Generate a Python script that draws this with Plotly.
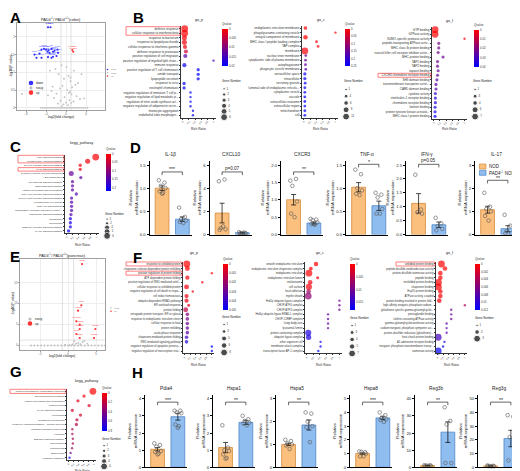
import plotly.graph_objects as go

W, H = 520, 471
FONT = "Liberation Sans, Arial, sans-serif"

# ---------------- A : volcano (colon) ----------------
a_down_x = [-3.6, -3.1, -6.3, -5.9, -5.3, -4.9, -4.4, -4.0, -3.7, -3.5, -3.3,
            -2.9, -2.6, -2.3, -1.7, -1.6, -1.9, -2.6, -2.9, -3.6, -4.9]
a_down_y = [2.27, 2.27, 1.50, 1.41, 1.53, 1.64, 1.66, 1.64, 1.58, 1.62, 1.55,
            1.66, 1.58, 1.61, 1.64, 1.55, 1.46, 1.44, 1.41, 1.43, 1.41]
a_down_genes = ["Gbp2", "Gbp3", "Cxcl9", "Iigp1", "Igtp", "Irgm1", "Gbp7", "Stat1",
                "Ifit1", "Ifit3", "Usp18", "Irf1", "Tgtp1", "Cd274", "Ly6a", "Psmb8",
                "Psmb9", "Tap1", "H2-T23", "Socs1", "Ido1"]
a_up_x = [1.25, 1.45]
a_up_y = [1.63, 1.58]
a_up_genes = ["Pla2g2a", "Defa21"]
a_ns_x = [-5.0, -4.6, -4.2, -3.8, -3.4, -3.0, -2.6, -2.2, -1.8, -1.4, -1.0, -0.6,
          -0.2, 0.2, 0.6, 1.0, 1.4, 1.8, 2.2, 2.6, 3.0, 3.4, 3.8, 4.3,
          -8.8, -3.2, -2.1, -1.5, -0.9, -0.4, 0.1, 0.5, 0.9, 1.6,
          2.4, 3.1, -2.7, -1.2, -0.7, 0.3, 0.8, 1.2, 1.9, -3.6,
          -1.9, -0.3, 0.6, 1.1, 2.8, -2.4, -1.1, 0.0, 0.7, 1.5,
          -1.6, -0.5, 0.4, 1.0, -0.8, 0.9, 2.1, -2.9, 3.6]
a_ns_y = [0.0, 0.0, 0.0, 0.0, 0.0, 0.0, 0.0, 0.0, 0.0, 0.0, 0.0, 0.0,
          0.0, 0.0, 0.0, 0.0, 0.0, 0.0, 0.0, 0.0, 0.0, 0.0, 0.0, 0.0,
          0.39, 1.05, 1.10, 0.95, 1.20, 0.82, 1.15, 0.90, 0.75, 1.05,
          0.70, 0.95, 0.60, 0.55, 0.62, 0.50, 0.45, 0.58, 0.65, 0.35,
          0.40, 0.30, 0.42, 0.38, 0.25, 0.28, 0.20, 0.15, 0.22, 0.18,
          0.12, 0.10, 0.08, 0.14, 0.05, 0.85, 0.33, 0.48, 0.27]

# ---------------- E : volcano (pancreas) ----------------
e_up_x = [2.5, 2.38, 1.79, 1.48, 2.09, 4.88, 2.09, 1.48, 4.64, 2.09]
e_up_y = [19.4, 9.57, 8.29, 5.76, 4.95, 3.93, 3.93, 2.74, 1.79, 1.79]
e_up_genes = ["Hspa8", "Pdia4", "Hspa5", "Hsp90b1", "Hspa1a", "Reg3g", "Dnajb11",
              "Pdia6", "Reg3b", "Sdf2l1"]
e_ns_x = [-6.6, -6.0, -5.4, -4.8, -4.2, -3.6, -3.0, -2.4, -1.8, -1.2, -0.6, 0.0,
          0.6, 1.2, 1.8, 2.4, 3.0, 3.6, 4.2, 4.8, 5.4, 6.0, 6.6,
          1.15, 2.9, 1.43, 3.45, 0.3, 1.8, 2.2, -0.5, 0.8, 2.6]
e_ns_y = [0.0, 0.0, 0.0, 0.0, 0.0, 0.0, 0.0, 0.0, 0.0, 0.0, 0.0, 0.0,
          0.0, 0.0, 0.0, 0.0, 0.0, 0.0, 0.0, 0.0, 0.0, 0.0, 0.0,
          1.07, 1.07, 0.45, 0.45, 0.1, 0.6, 0.3, 0.2, 0.25, 0.8]

# ---------------- B : GO enrichment (colon) ----------------
b_p_terms = ["defense response", "cellular response to interferon-beta", "response to bacterium",
             "response to lipopolysaccharide", "cellular response to interferon-gamma",
             "defense response to protozoan", "positive regulation of cell migration",
             "positive regulation of myeloid light chain...", "immune response",
             "positive regulation of T cell chemotaxis", "amide transport", "lipopeptide secretion",
             "response to virus", "neutrophil chemotaxis", "negative regulation of immature T cell p...",
             "negative regulation of lipid metabolic p...", "regulation of nitric-oxide synthase act...",
             "negative regulation of adiponectin secre...", "monocyte aggregation",
             "endothelial tube morphogen..."]
b_p_ratio = [0.06, 0.06, 0.05, 0.05, 0.07, 0.1, 0.08, 1.0, 0.05, 0.5, 0.5, 0.5, 0.04, 0.04,
             0.25, 0.25, 0.25, 0.25, 0.33, 0.33]
b_p_q = [0.0001, 0.0002, 0.0005, 0.0008, 0.001, 0.004, 0.013, 0.015, 0.019, 0.02, 0.02, 0.02,
         0.02, 0.02, 0.02, 0.02, 0.02, 0.02, 0.02, 0.02]
b_p_genes = [6, 6, 4, 4, 3, 3, 3, 1, 3, 2, 2, 2, 2, 2, 1, 1, 1, 1, 1, 1]

b_c_terms = ["endoplasmic reticulum membrane", "phagolysosome-containing vesicle",
             "integral component of membrane", "MHC class I peptide loading complex", "TAP complex",
             "membrane", "nuclear inner membrane", "cytoplasmic side of plasma membrane",
             "autophagosome", "phagocytic vesicle membrane", "extracellular space", "intracellular",
             "secretory granule", "lumenal side of endoplasmic reticulu...", "cytoplasmic vesicle",
             "vacuole", "extracellular exosome", "extracellular region", "mitochondrion", "cell"]
b_c_ratio = [0.05, 1.0, 0.05, 0.4, 0.45, 0.03, 0.06, 0.05, 0.05, 0.06, 0.03, 0.03, 0.04, 0.03,
             0.03, 0.03, 0.03, 0.03, 0.03, 0.03]
b_c_q = [0.0005, 0.001, 0.002, 0.006, 0.008, 0.01, 0.14, 0.15, 0.16, 0.17, 0.24, 0.24, 0.25,
         0.25, 0.25, 0.25, 0.25, 0.25, 0.25, 0.25]
b_c_genes = [4, 1, 6, 2, 2, 11, 2, 2, 2, 2, 3, 3, 2, 2, 2, 2, 2, 2, 2, 2]

b_f_terms = ["GTP binding", "GTPase activity", "SUMO-specific protease activity",
             "peptide-transporting ATPase activ...", "MHC class Ib protein binding",
             "natural killer cell receptor inhibitor activi...", "MHC protein binding", "TAP1 binding",
             "TAP2 binding", "tapasin binding", "CXCR3 chemokine receptor binding", "SH3 domain binding",
             "transmembrane transporter activi...", "CARD domain binding", "cytokine activity",
             "interleukin-1 receptor binding", "chemokine receptor binding", "laminin binding",
             "protein tyrosine kinase activato...", "MHC class I protein binding"]
b_f_ratio = [0.04, 0.04, 1.0, 0.16, 0.16, 0.14, 0.3, 0.12, 0.12, 0.14, 0.12, 0.1, 0.07, 0.07,
             0.05, 0.05, 0.05, 0.04, 0.04, 0.04]
b_f_q = [0.0003, 0.0005, 0.002, 0.022, 0.022, 0.022, 0.023, 0.023, 0.023, 0.024, 0.024, 0.025,
         0.025, 0.026, 0.032, 0.034, 0.035, 0.036, 0.038, 0.04]
b_f_genes = [7, 7, 1, 2, 2, 2, 2, 2, 2, 2, 2, 2, 2, 2, 2, 2, 2, 2, 2, 2]

# ---------------- C : KEGG (colon) ----------------
c_terms = ["TNF signaling pathway", "Cytosolic DNA-sensing pathway", "Toll-like receptor signaling pathway",
           "IL-17 signaling pathway", "Cytokine-cytokine receptor interaction", "ABC transporters",
           "NF-kappa B signaling pathway", "Osteoclast differentiation",
           "Antigen processing and presentation", "RIG-I-like receptor signaling pathway",
           "C-type lectin receptor signaling pathway", "Hematopoietic cell lineage",
           "Th17 cell differentiation", "Inflammatory mediator regulation of TRP ...",
           "Chemokine signaling pathway", "Phagosome", "Necroptosis",
           "NOD-like receptor signaling pathway", "MAPK signaling pathway"]
c_ratio = [0.97, 0.7, 0.45, 0.45, 0.15, 0.47, 0.19, 0.19, 0.19, 0.32, 0.16, 0.16, 0.16, 0.16,
           0.14, 0.12, 0.12, 0.12, 0.06]
c_q = [0.005, 0.01, 0.012, 0.015, 0.13, 0.14, 0.14, 0.14, 0.14, 0.15, 0.15, 0.15, 0.15, 0.15,
       0.15, 0.2, 0.2, 0.2, 0.22]
c_genes = [6, 4, 2, 2, 4, 2, 2, 2, 2, 2, 2, 2, 2, 2, 2, 2, 2, 2, 2]

# ---------------- F : GO enrichment (pancreas) ----------------
f_p_terms = ["response to unfolded protein", "chaperone cofactor-dependent protein refolding",
             "positive regulation of protein folding", "ATP-dependent protein folding",
             "positive regulation of IRE1-mediated unfol...", "cellular response to unfolded protein",
             "negative regulation of cell death in respo...", "cell redox homeostasis",
             "ubiquitin-dependent ERAD pathway", "ER overload response", "protein folding",
             "retrograde protein transport, ER to cytosol", "response to endoplasmic reticulum stress",
             "cellular response to heat", "protein refolding", "acute-phase response",
             "chaperone-mediated protein folding", "IRE1-mediated signaling pathway",
             "negative regulation of apoptotic process...", "negative regulation of transcription invo..."]
f_p_ratio = [0.08, 0.1, 1.0, 0.1, 0.65, 0.07, 0.3, 0.07, 0.07, 0.15, 0.04, 0.1, 0.1, 0.1, 0.1,
             0.1, 0.07, 0.07, 1.0, 1.0]
f_p_q = [0.0, 0.0, 0.0, 0.0002, 0.0003, 0.0003, 0.0004, 0.0004, 0.0004, 0.0005, 0.0013, 0.0025,
         0.0027, 0.0028, 0.003, 0.0032, 0.0038, 0.0045, 0.005, 0.005]
f_p_genes = [8, 5, 1, 4, 1, 5, 1, 4, 4, 2, 5, 3, 3, 3, 3, 3, 3, 3, 1, 1]

f_c_terms = ["smooth endoplasmic reticulum", "endoplasmic reticulum chaperone complex",
             "endoplasmic reticulum", "endoplasmic reticulum lumen", "melanosome", "cell surface",
             "focal adhesion", "myelin sheath", "Hrd1p ubiquitin ligase complex", "CHOP-ATF4 complex",
             "CHOP-ATF3 complex", "Hrd1p ubiquitin ligase ERAD-L complex", "CHOP-C/EBP complex",
             "Lewy body core", "lysosomal lumen", "protein-containing complex",
             "ubiquitin ligase complex", "other organism cell", "membrane attack complex",
             "transcription factor AP-1 complex"]
f_c_ratio = [0.28, 0.12, 0.06, 0.33, 0.1, 0.06, 0.05, 0.04, 1.0, 1.0, 1.0, 0.65, 0.65, 0.65,
             0.65, 0.04, 0.05, 0.42, 0.42, 0.35]
f_c_q = [0.0, 0.0, 0.0, 0.0005, 0.001, 0.001, 0.007, 0.008, 0.01, 0.01, 0.01, 0.011, 0.011,
         0.011, 0.011, 0.016, 0.016, 0.017, 0.017, 0.018]
f_c_genes = [4, 3, 7, 2, 4, 6, 4, 7, 1, 1, 1, 1, 1, 1, 1, 6, 5, 1, 1, 1]

f_f_terms = ["unfolded protein binding", "peptide disulfide oxidoreductase activity",
             "protein disulfide isomerase activity", "peptide binding", "misfolded protein binding",
             "chaperone binding", "Hsp70 protein binding", "ATPase activity, coupled",
             "protein binding involved in protein fold...", "high-affinity inorganic phosphate:sodium...",
             "glutathione specific gamma-glutamylcyclot...", "prostaglandin binding",
             "clathrin-uncoating ATPase activity", "gamma-glutamylcyclotransferase activity",
             "sodium:inorganic phosphate symporter act...", "protein-disulfide reductase (glutathione)...",
             "heat shock protein binding", "A1 adenosine receptor binding",
             "inorganic phosphate transmembrane transp...", "isomerase activity"]
f_f_ratio = [0.14, 0.27, 0.1, 0.1, 0.03, 0.03, 0.1, 0.1, 0.06, 1.0, 0.5, 0.5, 0.5, 0.33, 0.33,
             0.33, 0.02, 0.25, 0.2, 0.02]
f_f_q = [0.0, 0.0, 0.0, 0.0001, 0.0002, 0.0002, 0.0003, 0.0004, 0.0005, 0.004, 0.007, 0.007,
         0.007, 0.008, 0.008, 0.008, 0.009, 0.011, 0.012, 0.012]
f_f_genes = [3, 2, 2, 2, 3, 3, 2, 2, 2, 1, 1, 1, 1, 1, 1, 1, 3, 1, 1, 3]

# ---------------- G : KEGG (pancreas) ----------------
g_terms = ["Protein processing in endoplasmic reticulum", "Thyroid hormone synthesis",
           "Antigen processing and presentation", "Protein export", "MAPK signaling pathway",
           "Ferroptosis", "Glutathione metabolism", "Longevity regulating pathway - multiple species",
           "Ubiquitin mediated proteolysis", "Apoptosis", "Estrogen signaling pathway", "Spliceosome",
           "Legionellosis", "Endocytosis", "Metabolic pathways"]
g_ratio = [0.96, 0.61, 0.37, 0.81, 0.15, 0.47, 0.33, 0.31, 0.15, 0.15, 0.17, 0.17, 0.14, 0.08, 0.04]
g_q = [0.0, 0.05, 0.08, 0.1, 0.12, 0.12, 0.2, 0.22, 0.26, 0.27, 0.28, 0.28, 0.3, 0.45, 0.8]
g_genes = [6, 2, 2, 2, 2, 2, 2, 2, 1, 1, 1, 1, 1, 1, 1]

# ---------------- D : qPCR colon ----------------
d_genes = ["IL-1β", "CXCL10", "CXCR3", "TNF-α", "IFN-γ", "IL-17"]
d_nod_pts = [[1.17, 1.12, 1.05, 1.0, 0.93, 0.9, 0.88], [4.6, 4.75, 0.55, 0.45, 0.4, 0.7],
             [1.55, 1.6, 1.4, 0.95, 0.6, 0.5], [1.4, 1.3, 1.0, 0.95, 0.88, 0.85],
             [2.15, 0.9, 0.8, 0.75], [1.8, 1.2, 1.1, 1.0, 0.8, 0.6]]
d_pad_pts = [[0.58, 0.38, 0.33, 0.3, 0.27, 0.25], [0.2, 0.15, 0.12, 0.1, 0.1, 0.15],
             [0.45, 0.43, 0.41, 0.35, 0.3, 0.28, 0.3], [0.9, 0.86, 0.8, 0.55, 0.45, 0.45],
             [0.6, 0.4, 0.3, 0.2, 0.15], [0.85, 0.38, 0.15, 0.05, 0.05]]
d_mean = [[1.0, 0.33], [1.85, 0.15], [1.0, 0.33], [1.02, 0.62], [1.12, 0.35], [1.07, 0.25]]
d_sem = [[0.05, 0.05], [0.85, 0.03], [0.15, 0.03], [0.1, 0.1], [0.35, 0.1], [0.15, 0.13]]
d_sig = ["***", "p=0.07", "**", "*", "p=0.05", "**"]
d_ymax = [1.5, 6, 2.0, 1.5, 2.5, 3]
d_dtick = [0.5, 2, 0.5, 0.5, 0.5, 1]

# ---------------- H : qPCR pancreas ----------------
h_genes = ["Pdia4", "Hspa1", "Hspa5", "Hspa8", "Reg3b", "Reg3g"]
h_nod_pts = [[1.4, 1.3, 1.2, 0.95, 0.9, 0.8, 0.75], [2.45, 1.15, 1.0, 0.95, 0.75, 0.55, 0.5],
             [1.2, 1.15, 1.05, 1.0, 0.95, 0.8], [1.15, 1.1, 1.12, 1.0, 0.8, 0.8],
             [1.2, 1.1, 1.0, 0.9, 0.8, 0.9], [1.3, 1.1, 1.0, 0.8, 0.9, 0.7]]
h_pad_pts = [[3.3, 3.3, 3.2, 3.15, 2.5, 2.4, 2.3], [3.0, 2.8, 2.7, 2.6, 2.55, 2.45],
             [2.4, 2.35, 2.0, 1.8, 1.75, 1.1], [4.0, 3.8, 3.6, 3.5, 3.45, 3.3],
             [35, 27, 25, 2.5, 2.5], [38, 37, 22, 5, 5]]
h_mean = [[1.05, 2.95], [1.15, 2.62], [1.0, 1.85], [1.0, 3.6], [1.0, 20.5], [1.0, 21]]
h_sem = [[0.1, 0.2], [0.3, 0.12], [0.05, 0.22], [0.05, 0.12], [0.1, 6], [0.1, 6]]
h_sig = ["***", "**", "**", "***", "**", "**"]
h_ymax = [4, 4, 3, 5, 40, 50]
h_dtick = [1, 1, 1, 1, 10, 10]

NOD_FILL, NOD_LINE = "#fbc07e", "#d68c3c"
PAD_FILL, PAD_LINE = "#8fbdf0", "#4f86c6"
JIT = [-0.16, 0.12, -0.06, 0.17, -0.12, 0.05, 0.0]

fig = go.Figure()
annotations = []
shapes = []
counters = {"ax": 0, "ca": 0}


def px2paper(px, py):
    return px / W, 1 - py / H


def note(text, px, py, size=4, xanchor="center", yanchor="middle", color="#222", **kw):
    x, y = px2paper(px, py)
    annotations.append(dict(text=text, x=x, y=y, xref="paper", yref="paper", showarrow=False,
                            xanchor=xanchor, yanchor=yanchor, font=dict(size=size, color=color),
                            borderpad=0, **kw))


def new_axes(left, right, top, bottom, xa, ya):
    counters["ax"] += 1
    n = counters["ax"]
    sx = "" if n == 1 else str(n)
    xa = dict(xa, domain=[left / W, right / W], anchor="y" + sx)
    ya = dict(ya, domain=[1 - bottom / H, 1 - top / H], anchor="x" + sx)
    fig.update_layout(**{"xaxis" + sx: xa, "yaxis" + sx: ya})
    return "x" + sx, "y" + sx


def paper_circle(px, py, r, color):
    x0, y0 = px2paper(px - r, py + r)
    x1, y1 = px2paper(px + r, py - r)
    shapes.append(dict(type="circle", xref="paper", yref="paper", x0=x0, y0=y0, x1=x1, y1=y1,
                       fillcolor=color, line=dict(width=0)))


def volcano(dom, xrng, yrng, xticks, yticks, groups, vlines, hline):
    left, right, top, bottom = dom
    common = dict(showgrid=True, gridcolor="#eeeeee", gridwidth=0.4, showline=True, mirror=True,
                  linecolor="#a0a0a0", linewidth=0.5, ticks="outside", ticklen=1.2, tickwidth=0.4,
                  tickcolor="#a0a0a0", zeroline=False, tickfont=dict(size=2.8, color="#555"))
    xr, yr = new_axes(left, right, top, bottom,
                      dict(common, range=xrng, tickvals=xticks),
                      dict(common, range=yrng, tickvals=yticks))
    for v in vlines:
        shapes.append(dict(type="line", xref=xr, yref=yr + " domain", x0=v, x1=v, y0=0, y1=1,
                           line=dict(color="#cfcfcf", width=0.6)))
    shapes.append(dict(type="line", xref=xr + " domain", yref=yr, x0=0, x1=1, y0=hline, y1=hline,
                       line=dict(color="#cfcfcf", width=0.6)))
    for gx, gy, col, size, labels in groups:
        fig.add_trace(go.Scatter(
            x=gx, y=gy, mode="markers+text" if labels else "markers", text=labels,
            textposition="top center", textfont=dict(size=2.2, color=col),
            marker=dict(size=size, color=col, line=dict(width=0)),
            xaxis=xr, yaxis=yr, cliponaxis=False))


def dot_plot(dom, terms, ratio, qv, genes, qmax, qticks, levels, title_xy, title, rr_xy, cb, leg,
             boxes, lab_size):
    left, right, top, bottom = dom
    n = len(terms)
    line = dict(showline=True, linecolor="#333", linewidth=0.5, ticks="outside", ticklen=1.2,
                tickwidth=0.4, tickcolor="#333", showgrid=False, zeroline=False)
    rr_ticks = [0, 0.2, 0.4, 0.6, 0.8, 1]
    xr, yr = new_axes(left, right, top, bottom,
                      dict(line, range=[-0.06, 1.08], tickvals=rr_ticks,
                           ticktext=[f"{t:g}" for t in rr_ticks], tickangle=-45,
                           tickfont=dict(size=2.4, color="#333")),
                      dict(line, range=[n - 0.5, -0.5], tickvals=list(range(n)), ticktext=terms,
                           tickfont=dict(size=lab_size, color="#333")))
    counters["ca"] += 1
    ca = "coloraxis" if counters["ca"] == 1 else f"coloraxis{counters['ca']}"
    gmin, gmax = min(levels), max(levels)

    def size_of(g):
        return 2.4 + 4.4 * (g - gmin) / (gmax - gmin)

    fig.add_trace(go.Scatter(
        x=ratio, y=list(range(n)), mode="markers",
        marker=dict(size=[size_of(g) for g in genes], color=[-q for q in qv], coloraxis=ca,
                    line=dict(width=0)),
        xaxis=xr, yaxis=yr, cliponaxis=False))
    cbx, cbtop, cblen, cbth = cb
    fig.update_layout(**{ca: dict(
        cmin=-qmax, cmax=0, colorscale=[[0, "#0000ff"], [1, "#ff0000"]],
        colorbar=dict(x=cbx / W, xanchor="left", y=1 - cbtop / H, yanchor="top", len=cblen,
                      lenmode="pixels", thickness=cbth, thicknessmode="pixels", xpad=0, ypad=0,
                      outlinewidth=0, ticks="", tickvals=[-t for t in qticks],
                      ticktext=[f"{t:g}" for t in qticks], tickfont=dict(size=2.8, color="#333"),
                      title=dict(text="Qvalue", side="top", font=dict(size=3.0, color="#333"))))})
    # gene-number size legend
    lx, ltitle, ltop, lbot = leg
    note("Gene Number", lx - 1, ltitle, size=3.0, xanchor="left")
    lxr, lyr = new_axes(lx, lx + 14, ltop, lbot,
                        dict(visible=False, range=[-0.7, 4]),
                        dict(visible=False, range=[len(levels) - 0.5, -0.5]))
    fig.add_trace(go.Scatter(
        x=[0] * len(levels), y=list(range(len(levels))), mode="markers+text",
        text=[str(v) for v in levels], textposition="middle right",
        textfont=dict(size=2.8, color="#333"),
        marker=dict(size=[size_of(v) for v in levels], color="black"),
        xaxis=lxr, yaxis=lyr, cliponaxis=False))
    note(title, title_xy[0], title_xy[1], size=3.6)
    note("Rich Ratio", rr_xy[0], rr_xy[1], size=3.2)
    rh = (bottom - top) / n
    for r0, r1, xl in boxes:
        x0, y0 = px2paper(xl, top + (r1 + 1) * rh - 0.3)
        x1, y1 = px2paper(left - 1.0, top + r0 * rh + 0.3)
        shapes.append(dict(type="rect", xref="paper", yref="paper", x0=x0, y0=y0, x1=x1, y1=y1,
                           line=dict(color="#ff2a2a", width=0.6)))


def bar_chart(L, t, b, name, ymax, dtick, nod, pad, mean, sem, sig, frac, tickfmt):
    top = b - (b - t) * 1.06
    ticks = [round(dtick * k, 3) for k in range(int(round(ymax / dtick)) + 1)]
    xr, yr = new_axes(L, L + 42, top, b,
                      dict(range=[-0.62, 1.45], showticklabels=False, ticks="", showline=True,
                           linecolor="black", linewidth=0.8, showgrid=False, zeroline=False),
                      dict(range=[0, ymax * 1.06], tickvals=ticks, tickformat=tickfmt,
                           ticks="outside", ticklen=2, tickwidth=0.6, tickcolor="black",
                           tickfont=dict(size=4.3, color="#222"), showline=True, linecolor="black",
                           linewidth=0.8, showgrid=False, zeroline=False,
                           title=dict(text="Relative<br>mRNA expression",
                                      font=dict(size=4.3, color="#222"), standoff=1)))
    fig.add_trace(go.Bar(
        x=[0, 1], y=mean, width=0.68,
        marker=dict(color=[NOD_FILL, PAD_FILL], line=dict(color=[NOD_LINE, PAD_LINE], width=0.8)),
        error_y=dict(type="data", array=sem, color="black", thickness=0.7, width=2.5),
        xaxis=xr, yaxis=yr))
    for i, vals in enumerate([nod, pad]):
        fig.add_trace(go.Scatter(
            x=[i + JIT[k % len(JIT)] for k in range(len(vals))], y=vals, mode="markers",
            marker=dict(symbol="circle-open", size=3.6, color="#555", line=dict(width=0.6)),
            xaxis=xr, yaxis=yr, cliponaxis=False))
    lvl = frac * ymax
    d = 0.045 * ymax
    shapes.append(dict(type="path", xref=xr, yref=yr,
                       path=f"M0,{lvl - d} L0,{lvl} L1,{lvl} L1,{lvl - d}",
                       line=dict(color="black", width=0.6)))
    annotations.append(dict(text=sig, x=0.5, y=lvl, xref=xr, yref=yr, showarrow=False,
                            yanchor="bottom", font=dict(size=4.6 if "p" in sig else 5.2, color="#222"),
                            borderpad=0, yshift=0 if "p" in sig else -1.5))
    note(name, L + 21, t - 10, size=4.8)


# ---------------- panel letters ----------------
for letter, lx, ly in [("A", 1, 0), ("B", 124, 0), ("C", 1, 129), ("D", 121, 130),
                       ("E", 1, 239), ("F", 124, 240), ("G", 1, 354), ("H", 123, 355)]:
    note(f"<b>{letter}</b>", lx, ly, size=15, xanchor="left", yanchor="top", color="black")

# ---------------- A ----------------
volcano((9.3, 96.7, 15, 102), [-9.74, 7.74], [-0.06, 2.39], [-8, -4, 0, 4], [0, 0.5, 1, 1.5, 2],
        [(a_ns_x, a_ns_y, "#bdbdbd", 1.8, None),
         (a_down_x, a_down_y, "#3333ff", 2.2, a_down_genes),
         (a_up_x, a_up_y, "#ff3333", 2.2, a_up_genes)],
        [-1, 1], 1.3)
note("PAD4<sup>-/-</sup>/ PAD4<sup>+/+</sup>(colon)", 53, 11.5, size=3.8)
note("log2(fold change)", 53, 108.5, size=3.4)
note("-log10(P value)", 2.5, 58, size=3.4, textangle=-90)
for i, (lab, col, r) in enumerate([("down", "#3333ff", 2.3), ("nosig", "#bdbdbd", 1.6),
                                   ("up", "#ff3333", 2.3)]):
    paper_circle(23, 75 + 4.8 * i, r, col)
    note(lab, 27, 75 + 4.8 * i, size=3.0, xanchor="left")
    paper_circle(99.5, 61.5 + 3.3 * i, 0.8, col)
    note(lab, 101.5, 61.5 + 3.3 * i, size=2.2, xanchor="left", color="#777")

# ---------------- E ----------------
volcano((12, 97, 251, 342), [-8.57, 6.6], [-1.07, 20.6], [-5, 0, 5], [0, 5, 10, 15],
        [(e_ns_x, e_ns_y, "#bdbdbd", 1.8, None),
         (e_up_x, e_up_y, "#ff3333", 2.2, e_up_genes)],
        [-1, 1], 1.3)
note("PAD4<sup>-/-</sup>/ PAD4<sup>+/+</sup>(pancreas)", 54, 246.5, size=3.8)
note("log2(fold change)", 54, 348, size=3.4)
note("-log10(P value)", 5, 296, size=3.4, textangle=-90)
for i, (lab, col, r) in enumerate([("nosig", "#bdbdbd", 1.6), ("up", "#ff3333", 2.3)]):
    paper_circle(22, 311 + 4.5 * i, r, col)
    note(lab, 26, 311 + 4.5 * i, size=3.0, xanchor="left")
    paper_circle(103, 300 + 3.3 * i, 0.8, col)
    note(lab, 105, 300 + 3.3 * i, size=2.2, xanchor="left", color="#777")

# ---------------- B ----------------
dot_plot((173, 208, 18.4, 109.6), b_p_terms, b_p_ratio, b_p_q, b_p_genes, 0.02,
         [0, 0.005, 0.01, 0.015, 0.02], [1, 2, 3, 4, 5, 6], (191, 12.5), "go_p", (190, 121),
         (214, 12, 46, 6), (214, 73.5, 78, 112), [(0, 1, 118)], 3.0)
dot_plot((294, 330, 17.7, 109.6), b_c_terms, b_c_ratio, b_c_q, b_c_genes, 0.25,
         [0, 0.05, 0.1, 0.15, 0.2, 0.25], [1, 4, 6, 9, 11], (313, 12.5), "go_c", (312, 121),
         (337, 12, 46, 5), (336, 73.5, 78, 112), [], 3.0)
dot_plot((424, 459, 19.4, 110.6), b_f_terms, b_f_ratio, b_f_q, b_f_genes, 0.04,
         [0, 0.01, 0.02, 0.03, 0.04], [1, 3, 4, 6, 7], (441, 13), "go_f", (441, 121),
         (466, 13, 46, 5), (465, 73.5, 78, 112), [(10, 10, 370)], 3.0)

# ---------------- C ----------------
dot_plot((57, 91, 147, 225), c_terms, c_ratio, c_q, c_genes, 0.22,
         [0, 0.05, 0.1, 0.15, 0.2], [1, 2, 4, 5, 6], (73, 135), "kegg_pathway", (74, 237),
         (98, 137, 46, 5), (97, 206, 209, 230), [(0, 1, 10), (3, 3, 10)], 2.5)

# ---------------- D ----------------
for i, L in enumerate([141.5, 201.5, 273, 338, 398, 467]):
    bar_chart(L, 157, 226.5, d_genes[i], d_ymax[i], d_dtick[i], d_nod_pts[i], d_pad_pts[i],
              d_mean[i], d_sem[i], d_sig[i], [0.9, 0.9, 0.9, 1.01, 1.01, 0.78][i],
              ".1f" if d_dtick[i] < 1 else "d")
for i, (lab, fill, edge) in enumerate([("NOD", NOD_FILL, NOD_LINE),
                                       ("PAD4<sup>-/-</sup> NOD", PAD_FILL, PAD_LINE)]):
    x0, y0 = px2paper(471.5, 161 + 6.3 * i)
    x1, y1 = px2paper(478, 156 + 6.3 * i)
    shapes.append(dict(type="rect", xref="paper", yref="paper", x0=x0, y0=y0, x1=x1, y1=y1,
                       fillcolor=fill, line=dict(color=edge, width=0.7)))
    note(lab, 479.5, 158.5 + 6.3 * i, size=4.5, xanchor="left")

# ---------------- F ----------------
dot_plot((175, 206, 253.7, 345.3), f_p_terms, f_p_ratio, f_p_q, f_p_genes, 0.005,
         [0, 0.001, 0.002, 0.003, 0.004, 0.005], [1, 3, 5, 6, 8], (186, 245), "go_p", (190, 357),
         (215, 247, 55, 5), (214, 309, 313, 348), [(0, 0, 118), (2, 2, 118)], 2.7)
dot_plot((297, 334, 253.7, 345.3), f_c_terms, f_c_ratio, f_c_q, f_c_genes, 0.018,
         [0, 0.005, 0.01, 0.015], [1, 3, 4, 5, 7], (312, 245), "go_c", (315, 357),
         (342, 247, 55, 5), (342, 310, 314, 349), [], 2.7)
dot_plot((428, 459, 253.7, 345.3), f_f_terms, f_f_ratio, f_f_q, f_f_genes, 0.012,
         [0, 0.002, 0.004, 0.006, 0.008, 0.01, 0.012], [1, 2, 3], (441, 245), "go_f", (443, 357),
         (467, 247, 55, 5), (467, 310, 314, 334), [(0, 0, 388)], 2.7)

# ---------------- G ----------------
dot_plot((59, 88, 381, 452), g_terms, g_ratio, g_q, g_genes, 0.8,
         [0, 0.2, 0.4, 0.6, 0.8], [1, 2, 3, 4, 6], (78, 373), "kegg_pathway", (74, 462.5),
         (94, 376, 47, 5), (94, 431, 435, 461), [(0, 0, 2)], 2.5)

# ---------------- H ----------------
for i, L in enumerate([137, 205, 268, 342, 407, 470]):
    bar_chart(L, 390.7, 459.3, h_genes[i], h_ymax[i], h_dtick[i], h_nod_pts[i], h_pad_pts[i],
              h_mean[i], h_sem[i], h_sig[i], 0.95, "d")

fig.update_layout(
    width=W, height=H, margin=dict(l=0, r=0, t=0, b=0), autosize=False,
    template="none", showlegend=False,
    paper_bgcolor="white", plot_bgcolor="white",
    font=dict(family=FONT, color="#222"),
    annotations=annotations, shapes=shapes,
)

fig.write_html("out.html")
